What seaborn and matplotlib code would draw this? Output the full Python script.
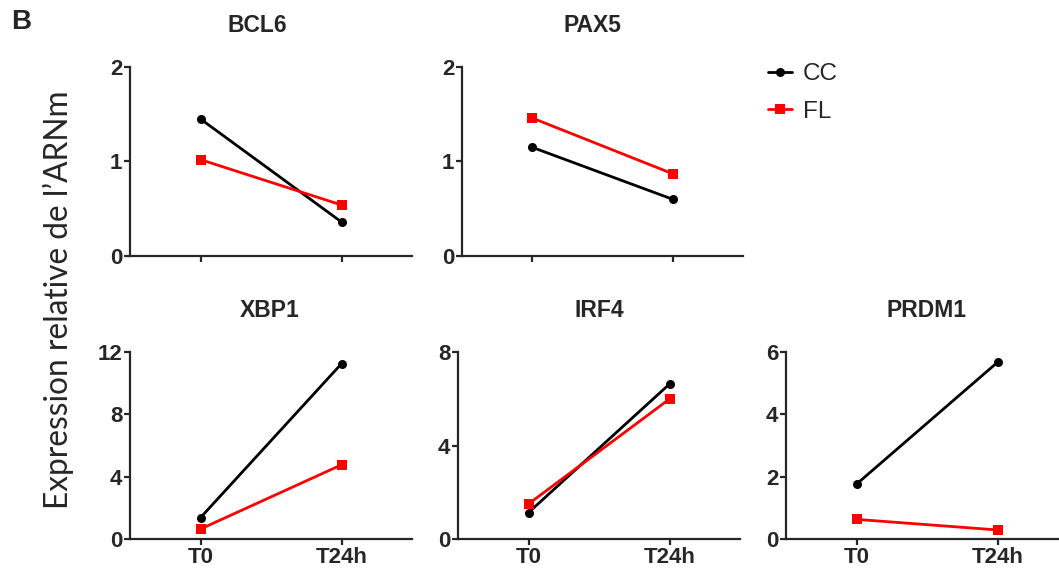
import matplotlib
matplotlib.use("Agg")
import matplotlib.pyplot as plt
import seaborn as sns
import pandas as pd

# ---- data ----
times = ["T0", "T24h"]
groups = ["CC", "FL"]
genes = ["BCL6", "PAX5", "XBP1", "IRF4", "PRDM1"]

bcl6_cc = [1.45, 0.36]
bcl6_fl = [1.02, 0.54]
pax5_cc = [1.15, 0.60]
pax5_fl = [1.46, 0.87]
xbp1_cc = [1.37, 11.25]
xbp1_fl = [0.64, 4.76]
irf4_cc = [1.13, 6.63]
irf4_fl = [1.50, 5.99]
prdm1_cc = [1.76, 5.67]
prdm1_fl = [0.63, 0.29]

values = {
    "BCL6": (bcl6_cc, bcl6_fl),
    "PAX5": (pax5_cc, pax5_fl),
    "XBP1": (xbp1_cc, xbp1_fl),
    "IRF4": (irf4_cc, irf4_fl),
    "PRDM1": (prdm1_cc, prdm1_fl),
}
yticks = {
    "BCL6": [0, 1, 2],
    "PAX5": [0, 1, 2],
    "XBP1": [0, 4, 8, 12],
    "IRF4": [0, 4, 8],
    "PRDM1": [0, 2, 4, 6],
}

sns.set_style("ticks")
plt.rcParams["font.family"] = ["Liberation Sans", "DejaVu Sans"]

W, H = 1059, 572
fig = plt.figure(figsize=(W / 100, H / 100), dpi=100)

# axes boxes in pixels: (left, top, right, bottom)
boxes = {
    "BCL6": (130, 67, 412, 256),
    "PAX5": (462, 67, 743, 256),
    "XBP1": (130, 352, 412, 539),
    "IRF4": (458, 352, 740, 539),
    "PRDM1": (786, 352, 1068, 539),
}
title_x = {"BCL6": 0.452, "PAX5": 0.463, "XBP1": 0.495, "IRF4": 0.5, "PRDM1": 0.5}

palette = {"CC": "black", "FL": "red"}
markers = {"CC": "o", "FL": "s"}

for gene in genes:
    l, t, r, b = boxes[gene]
    ax = fig.add_axes([l / W, 1 - b / H, (r - l) / W, (b - t) / H])
    cc, fl = values[gene]
    df = pd.DataFrame({
        "time": [0, 1, 0, 1],
        "value": cc + fl,
        "group": ["CC", "CC", "FL", "FL"],
    })
    for g, ms in (("CC", 6.5), ("FL", 7.5)):
        sub = df[df["group"] == g]
        sns.lineplot(data=sub, x="time", y="value", color=palette[g],
                     marker=markers[g], markersize=ms, markeredgewidth=0,
                     linewidth=2.0, ax=ax, label=g, legend=False)
    ax.set_xlim(-0.5, 1.5)
    ax.set_ylim(0, yticks[gene][-1])
    ax.set_yticks(yticks[gene])
    ax.set_xticks([0, 1])
    if gene in ("BCL6", "PAX5"):
        ax.set_xticklabels([])
    else:
        ax.set_xticklabels(times)
    ax.set_xlabel("")
    ax.set_ylabel("")
    ax.set_title(gene, fontsize=16.5, fontweight="bold", pad=25)
    ax.title.set_x(title_x[gene])
    for s in ("top", "right"):
        ax.spines[s].set_visible(False)
    for s in ("left", "bottom"):
        ax.spines[s].set_linewidth(1.6)
    ax.tick_params(axis="both", length=4.5, width=1.6, pad=1,
                   labelsize=16)
    for lab in ax.get_xticklabels() + ax.get_yticklabels():
        lab.set_fontweight("bold")
    ax.patch.set_alpha(0)
    if gene == "PAX5":
        handles, labels = ax.get_legend_handles_labels()
        fig.legend(handles, labels, loc="center left",
                   bbox_to_anchor=(758 / W, 1 - 93 / H), frameon=False,
                   fontsize=17.5, handlelength=1.0, handletextpad=0.45,
                   labelspacing=0.65, borderaxespad=0)

fig.text(58 / W, 1 - 300 / H, "Expression relative de l\u2019ARNm",
         rotation=90, ha="center", va="center", fontsize=22.8,
         family=["Lato", "DejaVu Sans"])
fig.text(11 / W, 1 - 22 / H, "B", fontsize=20, fontweight="bold",
         ha="left", va="center")

fig.savefig("out.png", dpi=100)
